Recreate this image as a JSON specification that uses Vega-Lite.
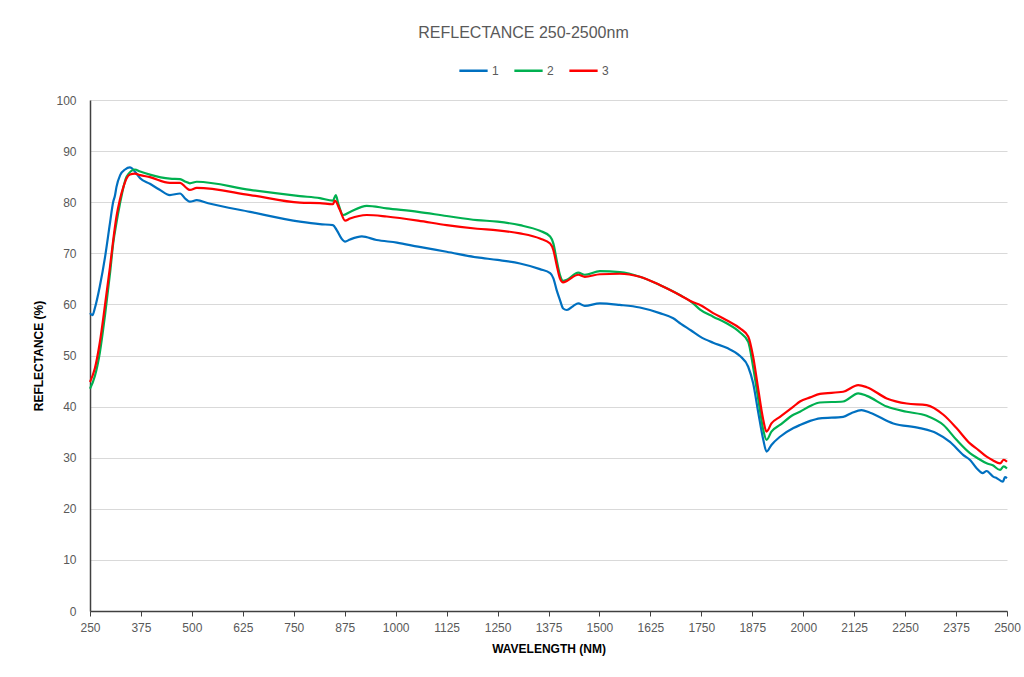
{
  "$schema": "https://vega.github.io/schema/vega-lite/v6.json",
  "width": 917,
  "height": 511,
  "autosize": {"type": "none"},
  "padding": {"left": 90, "top": 100, "right": 17, "bottom": 66},
  "background": "white",
  "title": {"text": "REFLECTANCE 250-2500nm", "font": "Liberation Sans", "fontSize": 16, "fontWeight": "normal", "color": "#595959", "anchor": "middle", "dx": -25, "offset": 14},
  "datasets": {
    "b": [
      [250,58.3],[256,57.9],[262,59.3],[274,63.5],[287,69.3],[299,75.9],[307,80.1],[311,81.2],[315,83.0],[324,85.3],[336,86.4],[348,86.8],[360,86.0],[373,84.7],[397,83.6],[420,82.5],[446,81.4],[471,81.7],[485,80.6],[495,80.1],[512,80.4],[540,79.8],[643,78.1],[765,76.2],[814,75.7],[846,75.5],[855,74.6],[867,72.9],[876,72.3],[888,72.7],[917,73.3],[953,72.6],[1003,72.1],[1055,71.3],[1125,70.3],[1200,69.2],[1250,68.7],[1305,68.0],[1354,66.9],[1379,66.1],[1387,65.1],[1395,62.8],[1403,60.9],[1411,59.2],[1420,58.9],[1436,59.7],[1448,60.2],[1464,59.7],[1501,60.2],[1550,59.9],[1599,59.4],[1648,58.3],[1681,57.3],[1700,56.2],[1725,54.9],[1747,53.7],[1779,52.5],[1812,51.5],[1845,49.9],[1865,47.8],[1877,44.6],[1890,38.7],[1902,33.5],[1910,31.2],[1922,32.5],[1943,34.1],[1976,35.8],[1992,36.4],[2017,37.2],[2041,37.7],[2098,38.0],[2120,38.8],[2143,39.3],[2164,38.8],[2221,36.7],[2286,35.8],[2327,34.8],[2360,33.1],[2393,30.5],[2410,29.5],[2426,27.9],[2440,27.0],[2450,27.4],[2466,26.3],[2475,26.0],[2490,25.3],[2495,26.2],[2500,26.0]
    ],
    "g": [
      [250,43.5],[262,46.0],[274,50.5],[287,58.0],[299,66.0],[307,72.0],[315,76.0],[323,79.5],[340,85.0],[360,86.4],[373,86.0],[397,85.4],[446,84.6],[471,84.5],[485,84.0],[495,83.7],[512,84.0],[643,82.4],[765,81.2],[814,80.8],[846,80.3],[853,81.4],[859,79.8],[871,77.5],[888,78.1],[929,79.3],[978,78.8],[1055,78.1],[1125,77.3],[1200,76.5],[1250,76.2],[1305,75.5],[1354,74.4],[1379,73.3],[1387,71.9],[1395,68.7],[1403,65.8],[1411,64.6],[1420,64.8],[1448,66.2],[1464,65.8],[1501,66.5],[1550,66.3],[1599,65.4],[1648,63.8],[1698,61.8],[1730,60.2],[1747,59.0],[1779,57.6],[1812,56.3],[1845,54.5],[1865,52.7],[1877,47.8],[1890,41.3],[1902,35.4],[1910,33.5],[1922,35.1],[1943,36.4],[1976,38.4],[1992,39.0],[2017,40.1],[2041,40.8],[2098,41.0],[2135,42.6],[2156,42.1],[2205,40.0],[2254,39.0],[2303,38.2],[2344,36.4],[2376,33.5],[2409,30.9],[2430,29.8],[2450,28.9],[2465,28.5],[2483,27.6],[2492,28.3],[2500,27.9]
    ],
    "r": [
      [250,44.8],[262,47.5],[274,52.5],[287,60.0],[299,67.3],[307,72.6],[315,77.2],[323,80.4],[332,83.0],[340,84.7],[348,85.4],[360,85.6],[373,85.3],[397,84.9],[446,83.8],[471,83.8],[485,82.9],[495,82.4],[512,82.8],[643,81.4],[765,79.9],[814,79.8],[846,79.6],[851,80.3],[863,78.5],[876,76.4],[888,76.8],[929,77.5],[978,77.2],[1055,76.4],[1125,75.5],[1200,74.8],[1250,74.5],[1305,73.9],[1354,72.9],[1379,71.9],[1387,70.6],[1395,67.7],[1403,65.1],[1411,64.3],[1420,64.6],[1448,65.8],[1464,65.4],[1501,65.9],[1550,66.0],[1599,65.4],[1648,63.8],[1698,61.8],[1730,60.4],[1747,59.9],[1779,58.3],[1812,56.9],[1845,55.3],[1865,53.7],[1877,49.8],[1890,43.2],[1902,37.4],[1910,35.1],[1922,36.7],[1943,38.0],[1976,40.0],[1992,41.0],[2017,41.8],[2041,42.5],[2098,42.9],[2135,44.2],[2156,43.8],[2205,41.6],[2254,40.6],[2303,40.3],[2344,38.4],[2376,35.8],[2409,32.8],[2430,31.5],[2450,30.2],[2465,29.5],[2483,28.9],[2492,29.6],[2500,29.2]
    ]
  },
  "layer": [
    {"data": {"name": "b"}, "transform": [{"calculate": "datum[0]", "as": "wl"}, {"calculate": "datum[1]", "as": "refl"}, {"calculate": "'1'", "as": "s"}], "mark": {"type": "line", "strokeWidth": 2.2, "interpolate": "monotone"},
     "encoding": {"x": {"field": "wl", "type": "quantitative"}, "y": {"field": "refl", "type": "quantitative"}, "color": {"field": "s", "type": "nominal"}}},
    {"data": {"name": "g"}, "transform": [{"calculate": "datum[0]", "as": "wl"}, {"calculate": "datum[1]", "as": "refl"}, {"calculate": "'2'", "as": "s"}], "mark": {"type": "line", "strokeWidth": 2.2, "interpolate": "monotone"},
     "encoding": {"x": {"field": "wl", "type": "quantitative"}, "y": {"field": "refl", "type": "quantitative"}, "color": {"field": "s", "type": "nominal"}}},
    {"data": {"name": "r"}, "transform": [{"calculate": "datum[0]", "as": "wl"}, {"calculate": "datum[1]", "as": "refl"}, {"calculate": "'3'", "as": "s"}], "mark": {"type": "line", "strokeWidth": 2.2, "interpolate": "monotone"},
     "encoding": {
       "x": {"field": "wl", "type": "quantitative", "scale": {"domain": [250, 2500], "nice": false, "zero": false},
             "axis": {"title": "WAVELENGTH (NM)", "format": "d", "values": [250,375,500,625,750,875,1000,1125,1250,1375,1500,1625,1750,1875,2000,2125,2250,2375,2500], "grid": false, "tickSize": 5, "labelPadding": 6, "titlePadding": 10, "labelFlush": false}},
       "y": {"field": "refl", "type": "quantitative", "scale": {"domain": [0, 100], "nice": false},
             "axis": {"title": "REFLECTANCE (%)", "format": "d", "values": [0,10,20,30,40,50,60,70,80,90,100], "grid": true, "ticks": false, "labelPadding": 14, "titlePadding": 10}},
       "color": {"field": "s", "type": "nominal", "scale": {"domain": ["1", "2", "3"], "range": ["#0070C0", "#00B050", "#FF0000"]},
                 "legend": {"title": null, "orient": "none", "legendX": 368, "legendY": -45, "direction": "horizontal", "symbolType": "stroke", "symbolSize": 800, "symbolStrokeWidth": 2.5, "labelOffset": 3, "columnPadding": 10, "labelFontSize": 12, "labelColor": "#595959", "labelFont": "Liberation Sans"}}
     }}
  ],
  "config": {
    "view": {"stroke": null},
    "axis": {"labelFont": "Liberation Sans", "labelFontSize": 12, "labelColor": "#595959", "titleFont": "Liberation Sans", "titleFontSize": 12, "titleFontWeight": "bold", "titleColor": "#000000", "domainColor": "#404040", "domainWidth": 1.5, "tickColor": "#404040", "gridColor": "#d9d9d9", "gridWidth": 1}
  }
}
